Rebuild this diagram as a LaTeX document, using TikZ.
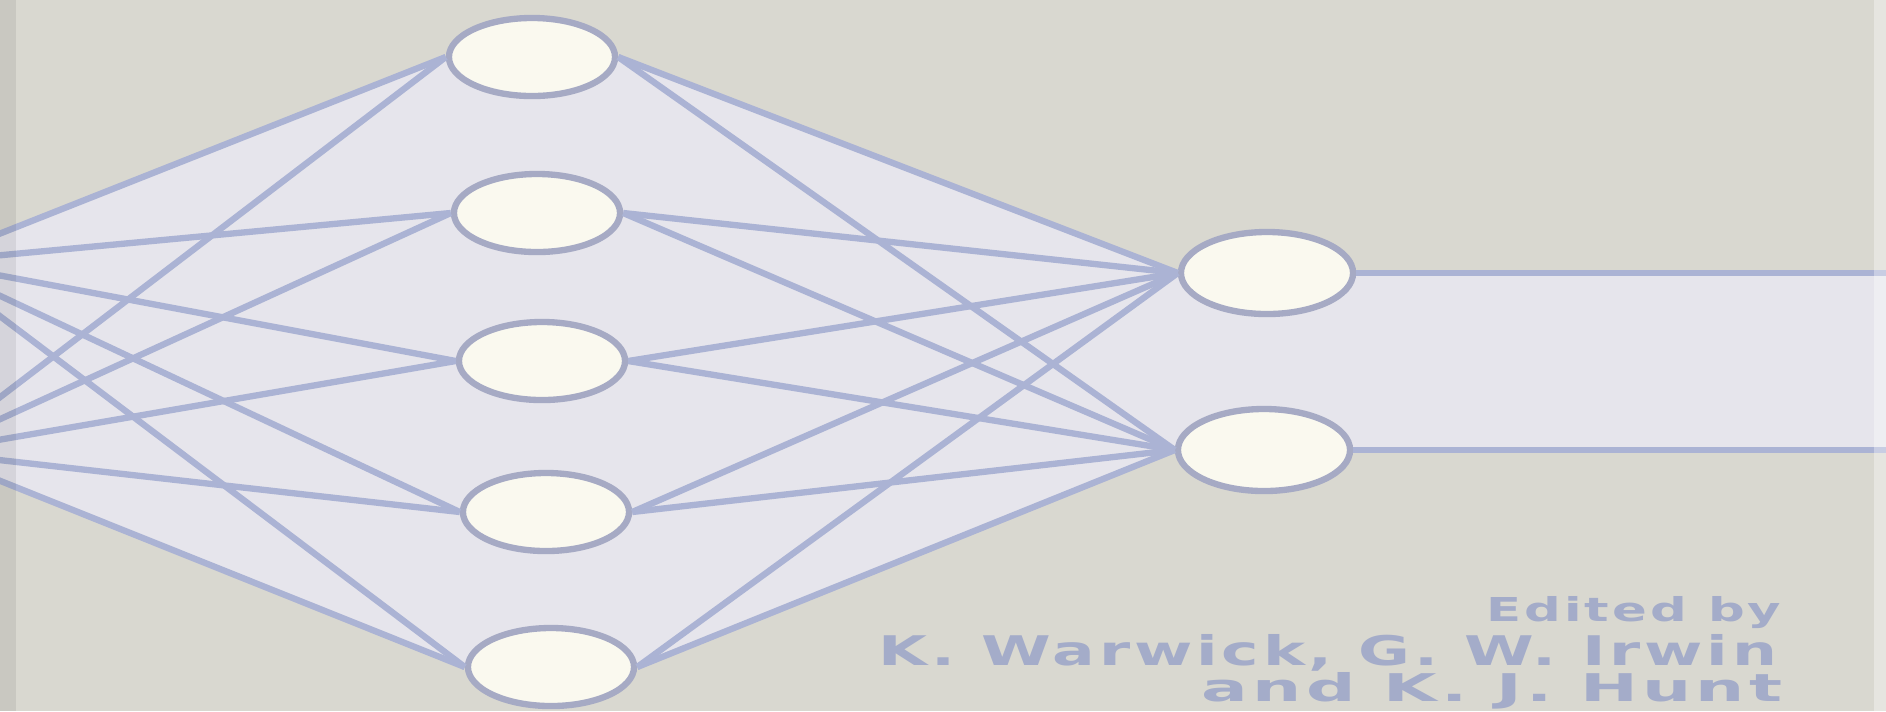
\documentclass[tikz,border=0pt]{standalone}
\usepackage{fontspec}
\usepackage{graphicx}
\usetikzlibrary{shapes.geometric,backgrounds}
\newfontfamily\creditfont[LetterSpace=6]{DejaVu Sans}
\definecolor{CoverGrey}{HTML}{D9D8D0}
\definecolor{NetGlow}{HTML}{E6E5EC}
\definecolor{WireBlue}{HTML}{ABB3D4}
\definecolor{UnitEdge}{HTML}{A6AAC4}
\definecolor{UnitFill}{HTML}{FAF9EF}
\definecolor{CreditBlue}{HTML}{A4ACC9}

\begin{document}
\begin{tikzpicture}[
  x=0.01cm, y=-0.01cm,
  unit/.style={ellipse, draw=UnitEdge, line width=1.8pt, fill=UnitFill, minimum width=1.66cm, minimum height=0.78cm, inner sep=0pt},
  outunit/.style={unit, minimum width=1.72cm, minimum height=0.82cm},
  wire/.style={draw=WireBlue, line width=1.8pt},
  credit/.style={anchor=base east, inner sep=0pt, text=CreditBlue, font=\creditfont\bfseries},
]
\useasboundingbox (0,0) rectangle (1886,711);
\clip (0,0) rectangle (1886,711);
% input units (off the left edge)
\node[unit] (in1) at (-158,262) {};
\node[unit] (in2) at (-158,452) {};
% hidden units
\node[unit] (h1) at (532,57) {};
\node[unit] (h2) at (537,213) {};
\node[unit] (h3) at (542,361) {};
\node[unit] (h4) at (546,512) {};
\node[unit] (h5) at (551,667) {};
% output units
\node[outunit] (o1) at (1267,273) {};
\node[outunit] (o2) at (1264,450) {};
\coordinate (e1) at (1900,273);
\coordinate (e2) at (1900,450);
% connections
\foreach \i in {1,2}
  \foreach \j in {1,...,5}
    \draw[wire] (in\i.east) -- (h\j.west);
\foreach \j in {1,...,5}
  \foreach \k in {1,2}
    \draw[wire] (h\j.east) -- (o\k.west);
\draw[wire] (o1.east) -- (e1);
\draw[wire] (o2.east) -- (e2);
% editors
\node[credit] (ed) at (1782,621) {\resizebox{2.95cm}{0.25cm}{Edited by}};
\node[credit] (au1) at (1778,665) {\resizebox{8.98cm}{0.31cm}{K. Warwick, G. W. Irwin}};
\node[credit] (au2) at (1783,701) {\resizebox{5.80cm}{0.29cm}{and K. J. Hunt}};
% edges of the cover
\fill[black, opacity=0.07] (0,0) rectangle (16,711);
\fill[white, opacity=0.35] (1874,0) rectangle (1886,711);
\begin{scope}[on background layer]
  \clip (0,0) rectangle (1886,711);
  \fill[CoverGrey] (0,0) rectangle (1886,711);
  \fill[NetGlow] (in1.east) -- (h1.west) -- (h1.east) -- (o1.west) -- (o1.east) -- (e1)
    -- (e2) -- (o2.east) -- (o2.west) -- (h5.east) -- (h5.west) -- (in2.east) -- cycle;
\end{scope}
\end{tikzpicture}
\end{document}
